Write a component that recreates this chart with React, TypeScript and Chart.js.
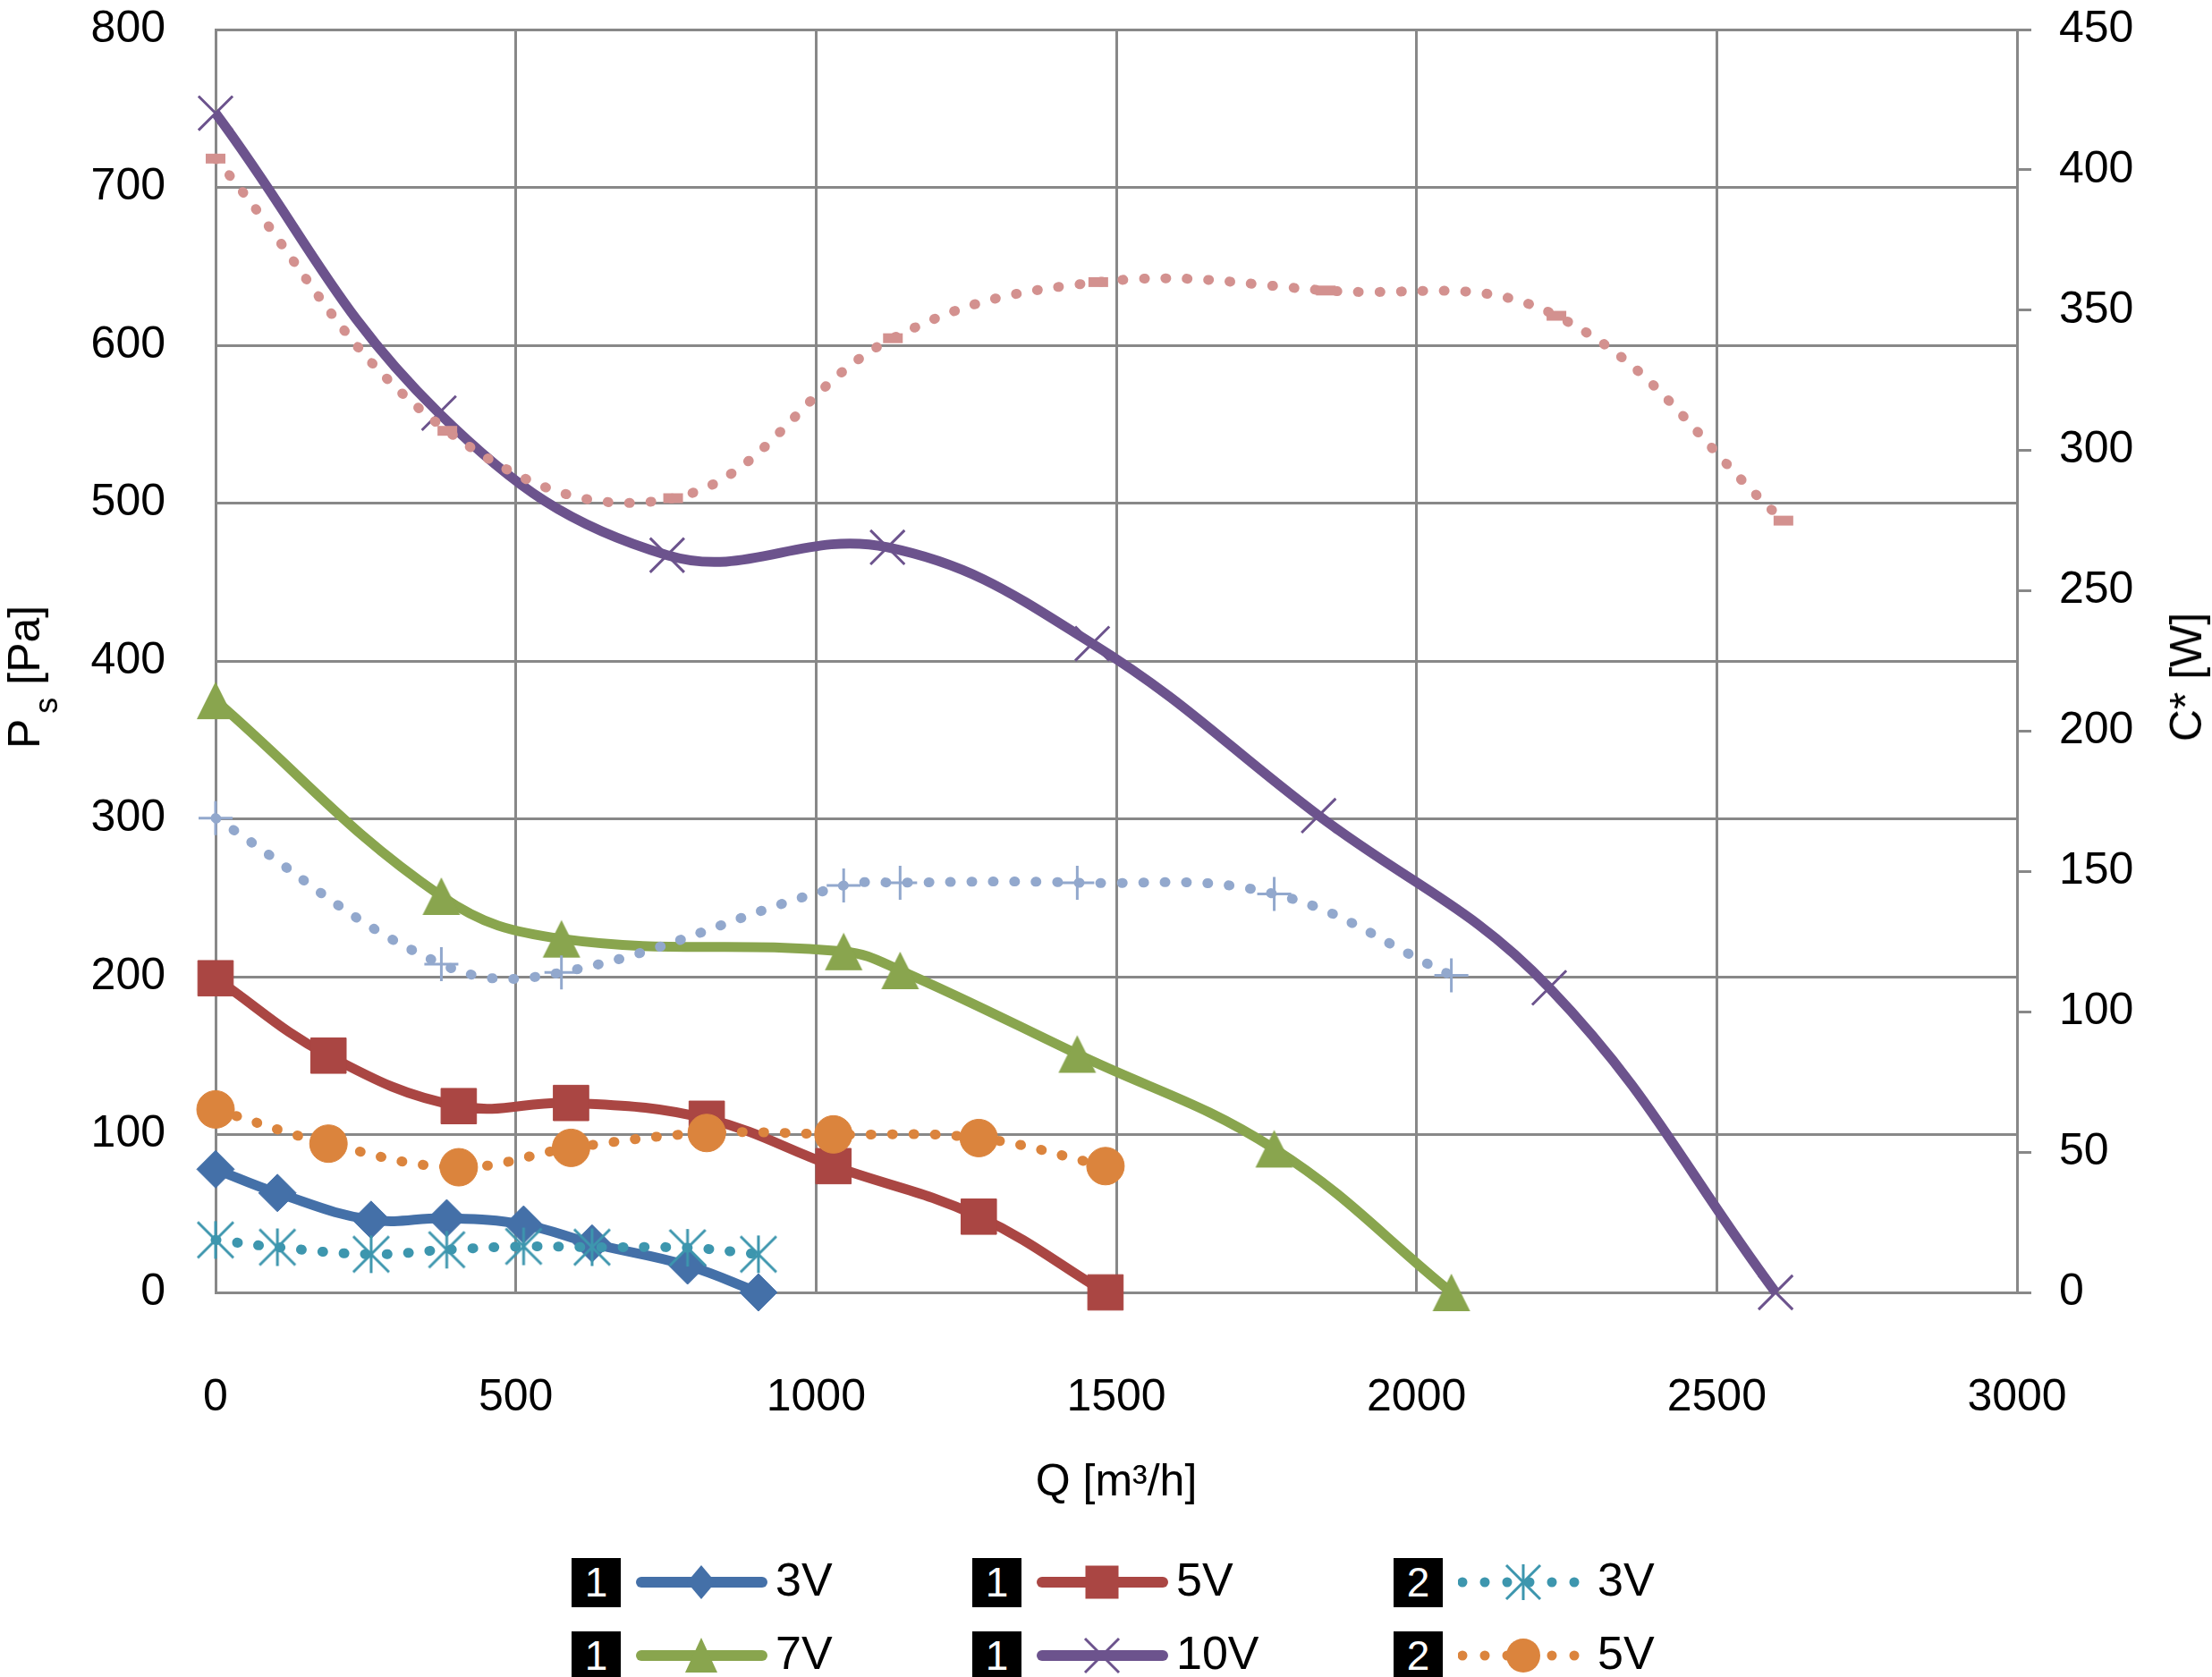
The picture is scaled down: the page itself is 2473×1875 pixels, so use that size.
import React, { useEffect, useRef } from "react";
import { Chart, registerables } from "chart.js";

Chart.register(...registerables);

// flow Q [m³/h] at each measuring point
const q3V = [0, 103, 259, 385, 513, 627, 786, 904];
const q5V = [0, 188, 405, 592, 818, 1029, 1271, 1482];
const q7V = [0, 376, 576, 1046, 1140, 1435, 1763, 2058];
const q10V = [0, 372, 752, 1119, 1460, 1837, 2221, 2598];
const q10VPower = [0, 386, 762, 1128, 1470, 1849, 2233, 2611];

// static pressure Ps [Pa] (left axis)
const ps3V = [78, 63, 46, 47, 43, 31, 17, 0];
const ps5V = [199, 150, 118, 120, 110, 80, 48, 0];
const ps7V = [375, 251, 224, 216, 204, 151, 91, 0];
const ps10V = [747, 557, 467, 472, 411, 302, 193, 0];

// power C* [W] (right axis)
const c3V = [18.7, 16.1, 13.6, 15.2, 16.4, 16.1, 15.9, 13.6];
const c5V = [65.2, 53, 44.6, 51.5, 56.8, 56.3, 55, 45];
const c7V = [169, 117, 114, 145, 146, 146, 142, 113];
const c10V = [404, 307, 283, 340, 360, 357, 348, 275];

// axis [min, max, step]
const qAxis = [0, 3000, 500];
const psAxis = [0, 800, 100];
const cAxis = [0, 450, 50];

const legendLabels = ["3V", "5V", "3V", "7V", "10V", "5V"];
const legendAxes = ["1", "1", "2", "1", "1", "2"];

const FONT = "'Liberation Sans', Arial, sans-serif";
const GRID = "#888888";
const BLUE = "#4470A8";
const RED = "#AA4643";
const GREEN = "#89A54E";
const PURPLE = "#6C538D";
const TEAL = "#3D96AE";
const ORANGE = "#DB843D";
const LIGHTBLUE = "#92A8CD";
const PINK = "#D3918F";

const W = 2473;
const H = 1700;

const pts = (xs: number[], ys: number[]) => xs.map((x, i) => ({ x, y: ys[i] }));

function asteriskImage(color: string) {
  const c = document.createElement("canvas");
  c.width = 46;
  c.height = 46;
  const g = c.getContext("2d")!;
  g.strokeStyle = color;
  g.lineWidth = 3;
  g.beginPath();
  g.moveTo(3, 3);
  g.lineTo(43, 43);
  g.moveTo(43, 3);
  g.lineTo(3, 43);
  g.moveTo(23, 2);
  g.lineTo(23, 44);
  g.stroke();
  return c;
}

function triangleImage(color: string) {
  const c = document.createElement("canvas");
  c.width = 44;
  c.height = 44;
  const g = c.getContext("2d")!;
  g.fillStyle = color;
  g.beginPath();
  g.moveTo(22, 1);
  g.lineTo(43, 43);
  g.lineTo(1, 43);
  g.closePath();
  g.fill();
  return c;
}

function solid(label: string, data: any, color: string, style: any, radius: number, bw = 1) {
  return {
    label,
    data,
    yAxisID: "y",
    showLine: true,
    borderColor: color,
    backgroundColor: color,
    borderWidth: 11,
    tension: 0.4,
    pointStyle: style,
    pointRadius: radius,
    pointBackgroundColor: color,
    pointBorderColor: color,
    pointBorderWidth: bw,
    clip: false,
    order: 1,
  };
}

function dotted(label: string, data: any, color: string, style: any, radius: number, bw = 1) {
  return {
    label,
    data,
    yAxisID: "y2",
    showLine: true,
    borderColor: color,
    backgroundColor: color,
    borderWidth: 11,
    borderDash: [1, 23],
    borderCapStyle: "round",
    tension: 0.4,
    pointStyle: style,
    pointRadius: radius,
    pointBackgroundColor: color,
    pointBorderColor: color,
    pointBorderWidth: bw,
    clip: false,
    order: 0,
  };
}

// keep the vertical axes from pushing the plot area down
const noPad = (s: any) => {
  s.paddingTop = 0;
  s.paddingBottom = 0;
};

function LegendMarker({ kind, color }: { kind: string; color: string }) {
  const cx = 73;
  const cy = 30;
  if (kind === "diamond")
    return <polygon points={`${cx},11 ${cx + 16},30 ${cx},49 ${cx - 16},30`} fill={color} />;
  if (kind === "square") return <rect x={cx - 18.5} y={11.5} width={37} height={37} fill={color} />;
  if (kind === "triangle")
    return <polygon points={`${cx},10 ${cx + 18},49 ${cx - 18},49`} fill={color} />;
  if (kind === "circle") return <circle cx={cx} cy={cy} r={19} fill={color} />;
  if (kind === "x")
    return (
      <g stroke={color} strokeWidth={3}>
        <line x1={cx - 19} y1={11} x2={cx + 19} y2={49} />
        <line x1={cx + 19} y1={11} x2={cx - 19} y2={49} />
      </g>
    );
  return (
    <g stroke={color} strokeWidth={3}>
      <line x1={cx - 19} y1={11} x2={cx + 19} y2={49} />
      <line x1={cx + 19} y1={11} x2={cx - 19} y2={49} />
      <line x1={cx} y1={10} x2={cx} y2={50} />
    </g>
  );
}

const legendColors = [BLUE, RED, TEAL, GREEN, PURPLE, ORANGE];
const legendMarkers = ["diamond", "square", "asterisk", "triangle", "x", "circle"];
const legendCols = [639, 1087, 1558];
const legendRows = [1769, 1851];

function Legend() {
  return (
    <>
      {legendLabels.map((label, i) => {
        const left = legendCols[i % 3];
        const cy = legendRows[Math.floor(i / 3)];
        const isDotted = legendAxes[i] === "2";
        const color = legendColors[i];
        return (
          <React.Fragment key={i}>
            <div
              style={{
                position: "absolute",
                left,
                top: cy - 27,
                width: 55,
                height: 55,
                background: "#000",
                color: "#fff",
                font: `46px ${FONT}`,
                lineHeight: "55px",
                textAlign: "center",
              }}
            >
              {legendAxes[i]}
            </div>
            <svg
              width={147}
              height={60}
              style={{ position: "absolute", left: left + 72, top: cy - 30 }}
            >
              {isDotted ? (
                <line
                  x1={5}
                  y1={30}
                  x2={142}
                  y2={30}
                  stroke={color}
                  strokeWidth={11}
                  strokeDasharray="0 25"
                  strokeLinecap="round"
                />
              ) : (
                <line
                  x1={6}
                  y1={30}
                  x2={141}
                  y2={30}
                  stroke={color}
                  strokeWidth={12}
                  strokeLinecap="round"
                />
              )}
              <LegendMarker kind={legendMarkers[i]} color={color} />
            </svg>
            <div
              style={{
                position: "absolute",
                left: left + 228,
                top: cy - 36,
                font: `52px ${FONT}`,
                lineHeight: "66px",
                color: "#000",
                whiteSpace: "nowrap",
              }}
            >
              {label}
            </div>
          </React.Fragment>
        );
      })}
    </>
  );
}

export default function App() {
  const canvasRef = useRef<HTMLCanvasElement | null>(null);

  useEffect(() => {
    if (!canvasRef.current) return;
    const chart = new Chart(canvasRef.current, {
      type: "scatter",
      data: {
        datasets: [
          solid("3V", pts(q3V, ps3V), BLUE, "rectRot", 21),
          solid("5V", pts(q5V, ps5V), RED, "rect", 28),
          solid("7V", pts(q7V, ps7V), GREEN, triangleImage(GREEN), 22),
          solid("10V", pts(q10V, ps10V), PURPLE, "crossRot", 27, 3),
          dotted("3V", pts(q3V, c3V), TEAL, asteriskImage(TEAL), 22, 3),
          dotted("5V", pts(q5V, c5V), ORANGE, "circle", 21),
          dotted("7V", pts(q7V, c7V), LIGHTBLUE, "cross", 19, 3),
          dotted("10V", pts(q10VPower, c10V), PINK, "line", 11, 11),
        ] as any,
      },
      options: {
        responsive: false,
        animation: false,
        devicePixelRatio: 1,
        layout: { padding: { top: 33, left: 0, right: 0, bottom: 0 } },
        plugins: { legend: { display: false }, tooltip: { enabled: false } },
        scales: {
          x: {
            type: "linear",
            min: qAxis[0],
            max: qAxis[1],
            ticks: {
              stepSize: qAxis[2],
              padding: 88,
              color: "#000",
              font: { family: FONT, size: 50 },
              callback: (v: any) => String(v),
            },
            grid: { color: GRID, lineWidth: 3, drawTicks: false },
            border: { color: GRID, width: 3 },
            title: {
              display: true,
              text: "Q [m³/h]",
              color: "#000",
              font: { family: FONT, size: 50 },
              padding: { top: 0, bottom: 12 },
            },
            afterFit: (s: any) => {
              s.height = H - 1445;
              s.paddingLeft = 0;
              s.paddingRight = 0;
            },
          },
          y: {
            position: "left",
            min: psAxis[0],
            max: psAxis[1],
            ticks: {
              stepSize: psAxis[2],
              padding: 56,
              color: "#000",
              font: { family: FONT, size: 50 },
              callback: (v: any) => String(v),
            },
            grid: { color: GRID, lineWidth: 3, drawTicks: false },
            border: { color: GRID, width: 3 },
            afterFit: (s: any) => {
              s.width = 241;
              noPad(s);
            },
          },
          y2: {
            position: "right",
            min: cAxis[0],
            max: cAxis[1],
            ticks: {
              stepSize: cAxis[2],
              padding: 31,
              color: "#000",
              font: { family: FONT, size: 50 },
              callback: (v: any) => String(v),
            },
            grid: {
              drawOnChartArea: false,
              drawTicks: true,
              tickLength: 16,
              tickColor: GRID,
              tickWidth: 3,
              color: GRID,
              lineWidth: 3,
            },
            border: { color: GRID, width: 3 },
            afterFit: (s: any) => {
              s.width = W - 2255;
              noPad(s);
            },
          },
        },
      } as any,
    });
    return () => chart.destroy();
  }, []);

  return (
    <div
      style={{
        position: "absolute",
        left: 0,
        top: 0,
        width: W,
        height: 1875,
        background: "#fff",
        overflow: "hidden",
        fontFamily: FONT,
      }}
    >
      <canvas
        ref={canvasRef}
        width={W}
        height={H}
        style={{ position: "absolute", left: 0, top: 0, width: W, height: H }}
      />
      <div
        style={{
          position: "absolute",
          left: 27,
          top: 757,
          transform: "translate(-50%, -50%) rotate(-90deg)",
          font: `50px ${FONT}`,
          whiteSpace: "nowrap",
          color: "#000",
        }}
      >
        P<span style={{ fontSize: 36, position: "relative", top: 20, marginLeft: 6 }}>s</span> [Pa]
      </div>
      <div
        style={{
          position: "absolute",
          left: 2444,
          top: 757,
          transform: "translate(-50%, -50%) rotate(-90deg)",
          font: `50px ${FONT}`,
          whiteSpace: "nowrap",
          color: "#000",
        }}
      >
        C* [W]
      </div>
      <Legend />
    </div>
  );
}
